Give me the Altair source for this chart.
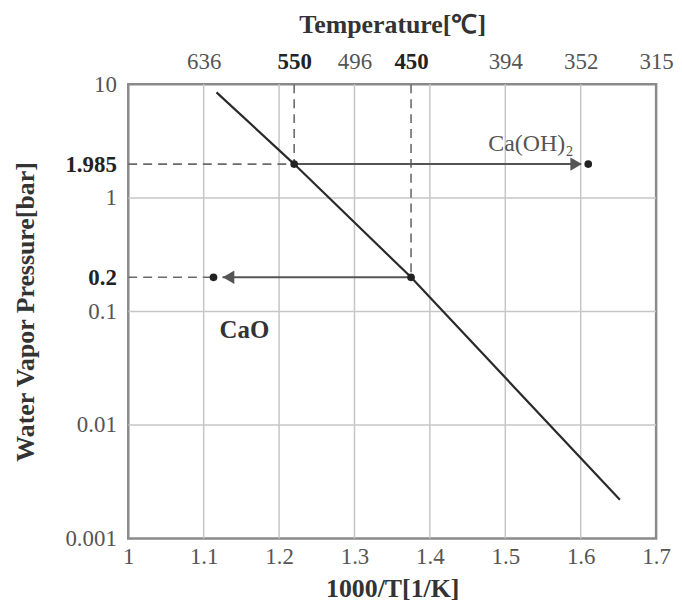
import altair as alt
import pandas as pd

# ---------------- data ----------------
# equilibrium line  (x = 1000/T, p = water vapour pressure in bar)
line_x = [1.117, 1.22, 1.375, 1.652]
line_p = [8.5, 1.985, 0.2, 0.0022]

# marker dots
dot_x = [1.22, 1.375, 1.61, 1.113]
dot_p = [1.985, 0.2, 1.985, 0.2]

# solid arrows (start x, end x, pressure)
arrow_x1 = [1.22, 1.375]
arrow_x2 = [1.60, 1.125]
arrow_p = [1.985, 0.2]
head_x = [1.594, 1.133]
head_p = [1.985, 0.2]
head_shape = ["triangle-right", "triangle-left"]

# dashed guide lines
dash_h_x1 = [1.0, 1.0]
dash_h_x2 = [1.22, 1.113]
dash_h_p = [1.985, 0.2]
dash_v_x = [1.22, 1.375]
dash_v_p1 = [10, 10]
dash_v_p2 = [1.985, 0.2]

# grid
grid_x = [1.1, 1.2, 1.3, 1.4, 1.5, 1.6]
grid_p = [0.01, 0.1, 1]

# axes
x_ticks = [1.0, 1.1, 1.2, 1.3, 1.4, 1.5, 1.6, 1.7]
x_tick_labels = ["1", "1.1", "1.2", "1.3", "1.4", "1.5", "1.6", "1.7"]
y_ticks = [0.001, 0.01, 0.1, 0.2, 1, 1.985, 10]
y_tick_labels = ["0.001", "0.01", "0.1", "0.2", "1", "1.985", "10"]
y_bold = [0.2, 1.985]
top_ticks = [1.1, 1.22, 1.3, 1.375, 1.5, 1.6, 1.7]
top_tick_labels = ["636", "550", "496", "450", "394", "352", "315"]
top_bold = [1.22, 1.375]

# annotations
label1_text, label1_x, label1_p = ["Ca(OH)\u2082"], [1.534], [2.99]
label2_text, label2_x, label2_p = ["CaO"], [1.154], [0.069]

FONT = "Liberation Serif"


def js_list(v):
    return "[" + ",".join(repr(s) if isinstance(s, str) else str(s) for s in v) + "]"


def label_expr(vals, labels):
    return f"{js_list(labels)}[indexof({js_list(vals)}, datum.value)]"


def bold_test(vals):
    return " || ".join(f"abs(datum.value - {v}) < 1e-6" for v in vals)


xs = alt.Scale(domain=[1.0, 1.7], nice=False, zero=False)
ys = alt.Scale(type="log", domain=[0.001, 10], nice=False)

bottom_axis = alt.Axis(
    values=x_ticks, labelExpr=label_expr(x_ticks, x_tick_labels),
    title="1000/T[1/K]", orient="bottom", labelPadding=7, titlePadding=7,
    labelFlush=False,
)
top_axis = alt.Axis(
    values=top_ticks, labelExpr=label_expr(top_ticks, top_tick_labels),
    title="Temperature[\u2103]", orient="top", labelPadding=11, titlePadding=13,
    labelFlush=False,
    labelFontWeight={"condition": {"test": bold_test(top_bold), "value": "bold"}, "value": "normal"},
    labelColor={"condition": {"test": bold_test(top_bold), "value": "#222222"}, "value": "#555555"},
)
left_axis = alt.Axis(
    values=y_ticks, labelExpr=label_expr(y_ticks, y_tick_labels),
    title="Water Vapor Pressure[bar]", labelPadding=12, titlePadding=27,
    labelFontWeight={"condition": {"test": bold_test(y_bold), "value": "bold"}, "value": "normal"},
    labelColor={"condition": {"test": bold_test(y_bold), "value": "#222222"}, "value": "#555555"},
)

df_line = pd.DataFrame({"x": line_x, "p": line_p})
df_dot = pd.DataFrame({"x": dot_x, "p": dot_p})
df_arrow = pd.DataFrame({"x1": arrow_x1, "x2": arrow_x2, "p": arrow_p})
df_head = pd.DataFrame({"x": head_x, "p": head_p, "shape": head_shape})
df_dh = pd.DataFrame({"x1": dash_h_x1, "x2": dash_h_x2, "p": dash_h_p})
df_dv = pd.DataFrame({"x": dash_v_x, "p1": dash_v_p1, "p2": dash_v_p2})
df_gx = pd.DataFrame({"x": grid_x})
df_gp = pd.DataFrame({"p": grid_p})
df_l1 = pd.DataFrame({"t": label1_text, "x": label1_x, "p": label1_p})
df_l2 = pd.DataFrame({"t": label2_text, "x": label2_x, "p": label2_p})

grid_v = alt.Chart(df_gx).mark_rule(color="#c6c6c6", strokeWidth=1.5).encode(
    x=alt.X("x:Q", scale=xs, axis=bottom_axis)
)
grid_h = alt.Chart(df_gp).mark_rule(color="#c6c6c6", strokeWidth=1.5).encode(
    y=alt.Y("p:Q", scale=ys, axis=left_axis)
)
dash_h = alt.Chart(df_dh).mark_rule(color="#6a6a6a", strokeWidth=1.6, strokeDash=[9, 6]).encode(
    x=alt.X("x1:Q", scale=xs, axis=None), x2="x2:Q", y=alt.Y("p:Q", scale=ys, axis=None)
)
dash_v = alt.Chart(df_dv).mark_rule(color="#6a6a6a", strokeWidth=1.6, strokeDash=[9, 6]).encode(
    x=alt.X("x:Q", scale=xs, axis=top_axis), y=alt.Y("p1:Q", scale=ys, axis=None), y2="p2:Q"
)
arrows = alt.Chart(df_arrow).mark_rule(color="#555555", strokeWidth=2).encode(
    x=alt.X("x1:Q", scale=xs, axis=None), x2="x2:Q", y=alt.Y("p:Q", scale=ys, axis=None)
)
heads = alt.Chart(df_head).mark_point(filled=True, color="#555555", size=180, opacity=1).encode(
    x=alt.X("x:Q", scale=xs, axis=None), y=alt.Y("p:Q", scale=ys, axis=None),
    shape=alt.Shape("shape:N", scale=None, legend=None),
)
line = alt.Chart(df_line).mark_line(color="#2a2a2a", strokeWidth=2.2).encode(
    x=alt.X("x:Q", scale=xs, axis=None), y=alt.Y("p:Q", scale=ys, axis=None), order="x:Q"
)
dots = alt.Chart(df_dot).mark_circle(color="#222222", size=60, opacity=1).encode(
    x=alt.X("x:Q", scale=xs, axis=None), y=alt.Y("p:Q", scale=ys, axis=None)
)
lab1 = alt.Chart(df_l1).mark_text(font=FONT, fontSize=24, color="#555555").encode(
    x=alt.X("x:Q", scale=xs, axis=None), y=alt.Y("p:Q", scale=ys, axis=None), text="t:N"
)
lab2 = alt.Chart(df_l2).mark_text(font=FONT, fontSize=25, fontWeight="bold", color="#333333").encode(
    x=alt.X("x:Q", scale=xs, axis=None), y=alt.Y("p:Q", scale=ys, axis=None), text="t:N"
)

chart = (
    alt.layer(grid_v, grid_h, dash_h, dash_v, arrows, heads, line, dots, lab1, lab2)
    .resolve_axis(x="independent", y="independent")
    .properties(width=531, height=457,
                padding={"left": 4, "top": 2, "right": 0, "bottom": 0})
    .configure_view(stroke="#8a8a8a", strokeWidth=2.5)
    .configure_axis(
        labelFont=FONT, labelFontSize=23, labelColor="#555555",
        titleFont=FONT, titleFontSize=26, titleFontWeight="bold", titleColor="#333333",
        ticks=False, domain=False, grid=False,
    )
)

chart.save("out.html", embed_options={"renderer": "svg", "actions": False})
